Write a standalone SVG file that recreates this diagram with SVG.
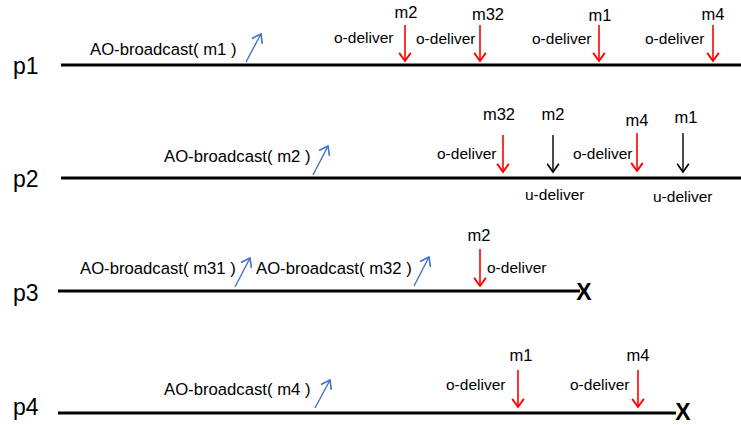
<svg xmlns="http://www.w3.org/2000/svg" width="741" height="425" viewBox="0 0 741 425">
<style>
text{font-family:"Liberation Sans",Arial,sans-serif;fill:#000}
.p{font-size:23px}
.b{font-size:16.7px}
.d{font-size:15.5px}
.m{font-size:16.5px;text-anchor:middle}
.x{font-size:23px;font-weight:bold;text-anchor:middle}
.tl{stroke:#000;stroke-width:3;fill:none}
.red{stroke:#FF0000;stroke-width:1.6;fill:none}
.blk{stroke:#000;stroke-width:1.4;fill:none}
.blu{stroke:#4472C4;stroke-width:1.4;fill:none}
</style>
<defs>
<marker id="hr" markerUnits="userSpaceOnUse" markerWidth="14" markerHeight="14" viewBox="-8 -6 10 12" refX="0" refY="0" orient="auto"><path d="M-7,-5 L0,0 L-7,5" fill="none" stroke="#FF0000" stroke-width="1.6"/></marker>
<marker id="hk" markerUnits="userSpaceOnUse" markerWidth="14" markerHeight="14" viewBox="-8 -6 10 12" refX="0" refY="0" orient="auto"><path d="M-7,-5 L0,0 L-7,5" fill="none" stroke="#000" stroke-width="1.4"/></marker>
<marker id="hb" markerUnits="userSpaceOnUse" markerWidth="14" markerHeight="14" viewBox="-8 -6 10 12" refX="0" refY="0" orient="auto"><path d="M-7,-5 L0,0 L-7,5" fill="none" stroke="#4472C4" stroke-width="1.4"/></marker>
</defs>
<g id="p1">
<text class="p" x="13" y="74">p1</text>
<line class="tl" x1="61" y1="65" x2="741" y2="65"/>
<text class="b" x="90" y="55">AO-broadcast( m1 )</text>
<text class="m" x="406" y="18">m2</text>
<text class="d" x="334" y="43">o-deliver</text>
<text class="m" x="488" y="20">m32</text>
<text class="d" x="416" y="44">o-deliver</text>
<text class="m" x="600" y="21">m1</text>
<text class="d" x="532" y="44">o-deliver</text>
<text class="m" x="713" y="20">m4</text>
<text class="d" x="645" y="44">o-deliver</text>
</g>
<g id="p2">
<text class="p" x="13" y="187">p2</text>
<line class="tl" x1="61" y1="178" x2="741" y2="178"/>
<text class="b" x="164" y="162">AO-broadcast( m2 )</text>
<text class="m" x="499" y="120">m32</text>
<text class="d" x="437" y="159">o-deliver</text>
<text class="m" x="553" y="120">m2</text>
<text class="d" x="525" y="200">u-deliver</text>
<text class="m" x="637" y="126">m4</text>
<text class="d" x="573" y="159">o-deliver</text>
<text class="m" x="686" y="123">m1</text>
<text class="d" x="653" y="202">u-deliver</text>
</g>
<g id="p3">
<text class="p" x="13" y="301">p3</text>
<line class="tl" x1="58" y1="291" x2="580" y2="291"/>
<text class="x" x="584" y="300">X</text>
<text class="b" x="80" y="274">AO-broadcast( m31 )</text>
<text class="b" x="256" y="274">AO-broadcast( m32 )</text>
<text class="m" x="479" y="241">m2</text>
<text class="d" x="487" y="273">o-deliver</text>
</g>
<g id="p4">
<text class="p" x="13" y="415">p4</text>
<line class="tl" x1="58" y1="413" x2="676" y2="413"/>
<text class="x" x="683" y="420">X</text>
<text class="b" x="164" y="395">AO-broadcast( m4 )</text>
<text class="m" x="521" y="361">m1</text>
<text class="d" x="446" y="390">o-deliver</text>
<text class="m" x="638" y="361">m4</text>
<text class="d" x="570" y="390">o-deliver</text>
</g>
<g id="connectors">
<line class="blu" x1="246" y1="62" x2="261" y2="34" marker-end="url(#hb)"/>
<line class="red" x1="405" y1="25" x2="405" y2="61" marker-end="url(#hr)"/>
<line class="red" x1="480" y1="25" x2="480" y2="61" marker-end="url(#hr)"/>
<line class="red" x1="599" y1="25" x2="599" y2="61" marker-end="url(#hr)"/>
<line class="red" x1="713" y1="25" x2="713" y2="61" marker-end="url(#hr)"/>
<line class="blu" x1="313" y1="175" x2="328" y2="146" marker-end="url(#hb)"/>
<line class="red" x1="503" y1="135" x2="503" y2="172" marker-end="url(#hr)"/>
<line class="blk" x1="553" y1="135" x2="553" y2="172" marker-end="url(#hk)"/>
<line class="red" x1="637" y1="133" x2="637" y2="171" marker-end="url(#hr)"/>
<line class="blk" x1="683" y1="133" x2="683" y2="172" marker-end="url(#hk)"/>
<line class="blu" x1="235" y1="287" x2="250" y2="258" marker-end="url(#hb)"/>
<line class="blu" x1="414" y1="286" x2="429" y2="257" marker-end="url(#hb)"/>
<line class="red" x1="480" y1="249" x2="480" y2="286" marker-end="url(#hr)"/>
<line class="blu" x1="315" y1="408" x2="330" y2="380" marker-end="url(#hb)"/>
<line class="red" x1="518" y1="370" x2="518" y2="407" marker-end="url(#hr)"/>
<line class="red" x1="638" y1="370" x2="638" y2="407" marker-end="url(#hr)"/>
</g>
</svg>
